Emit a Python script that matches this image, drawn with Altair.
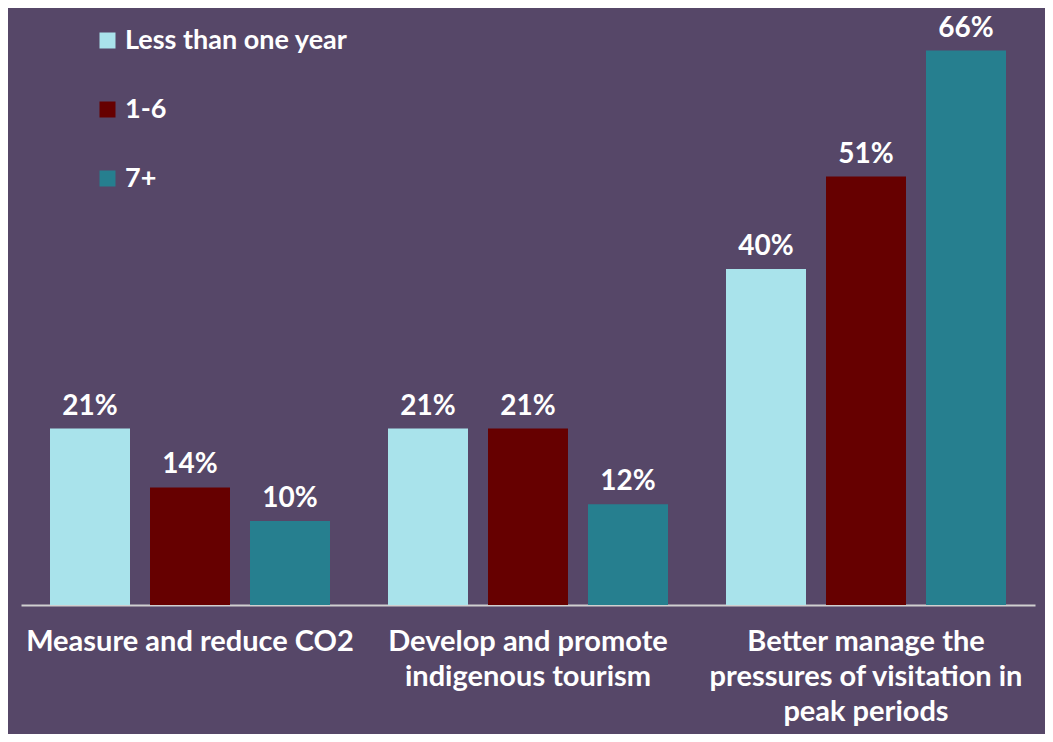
import altair as alt
import pandas as pd

categories = ["Measure and reduce CO2", "Develop and promote|indigenous tourism",
              "Better manage the|pressures of visitation in|peak periods"]
groups = ["Less than one year", "1-6", "7+"]
less_than_one = [21, 21, 40]
one_to_six = [14, 21, 51]
seven_plus = [10, 12, 66]
colors = ["#A9E3EB", "#660000", "#267F8F"]

rows = []
for i, c in enumerate(categories):
    for g, vals in zip(groups, [less_than_one, one_to_six, seven_plus]):
        rows.append({"category": c, "group": g, "value": vals[i], "label": f"{vals[i]}%"})
df = pd.DataFrame(rows)

FONT = "Lato"

x = alt.X("category:N", sort=categories,
          scale=alt.Scale(paddingInner=0, paddingOuter=0),
          axis=alt.Axis(title=None, labelAngle=0, ticks=False, domain=True,
                        domainColor="#D0D0D0", domainWidth=2,
                        labelExpr="split(datum.label, '|')",
                        labelColor="white", labelFont=FONT, labelFontSize=29,
                        labelFontWeight="bold", labelLimit=0, labelPadding=22,
                        labelBaseline="top", labelLineHeight=35))
xoff = alt.XOffset("group:N", sort=groups,
                   scale=alt.Scale(paddingInner=0.2, paddingOuter=0.29))
y = alt.Y("value:Q", scale=alt.Scale(domain=[0, 70], nice=False), axis=None)

bars = alt.Chart(df).mark_bar().encode(
    x=x, xOffset=xoff, y=y,
    color=alt.Color("group:N", sort=groups,
                    scale=alt.Scale(domain=groups, range=colors),
                    legend=alt.Legend(title=None, orient="none", legendX=73, legendY=10,
                                      symbolType="square", symbolSize=256,
                                      symbolStrokeWidth=0, labelColor="white",
                                      labelFont=FONT, labelFontSize=27,
                                      labelFontWeight="bold", rowPadding=41,
                                      labelOffset=4, labelLimit=0)),
)

text = alt.Chart(df).mark_text(dy=-14, baseline="alphabetic", color="white",
                               font=FONT, fontSize=28, fontWeight="bold").encode(
    x=x, xOffset=xoff, y=y, text="label:N")

chart = (bars + text).properties(
    width=1014, height=588,
    padding={"left": 13, "top": 9, "right": 10, "bottom": 129},
    autosize=alt.AutoSizeParams(type="none"),
    background="#564768",
).configure_view(stroke=None)

chart.save("out.html", embed_options={"renderer": "svg", "actions": False})
